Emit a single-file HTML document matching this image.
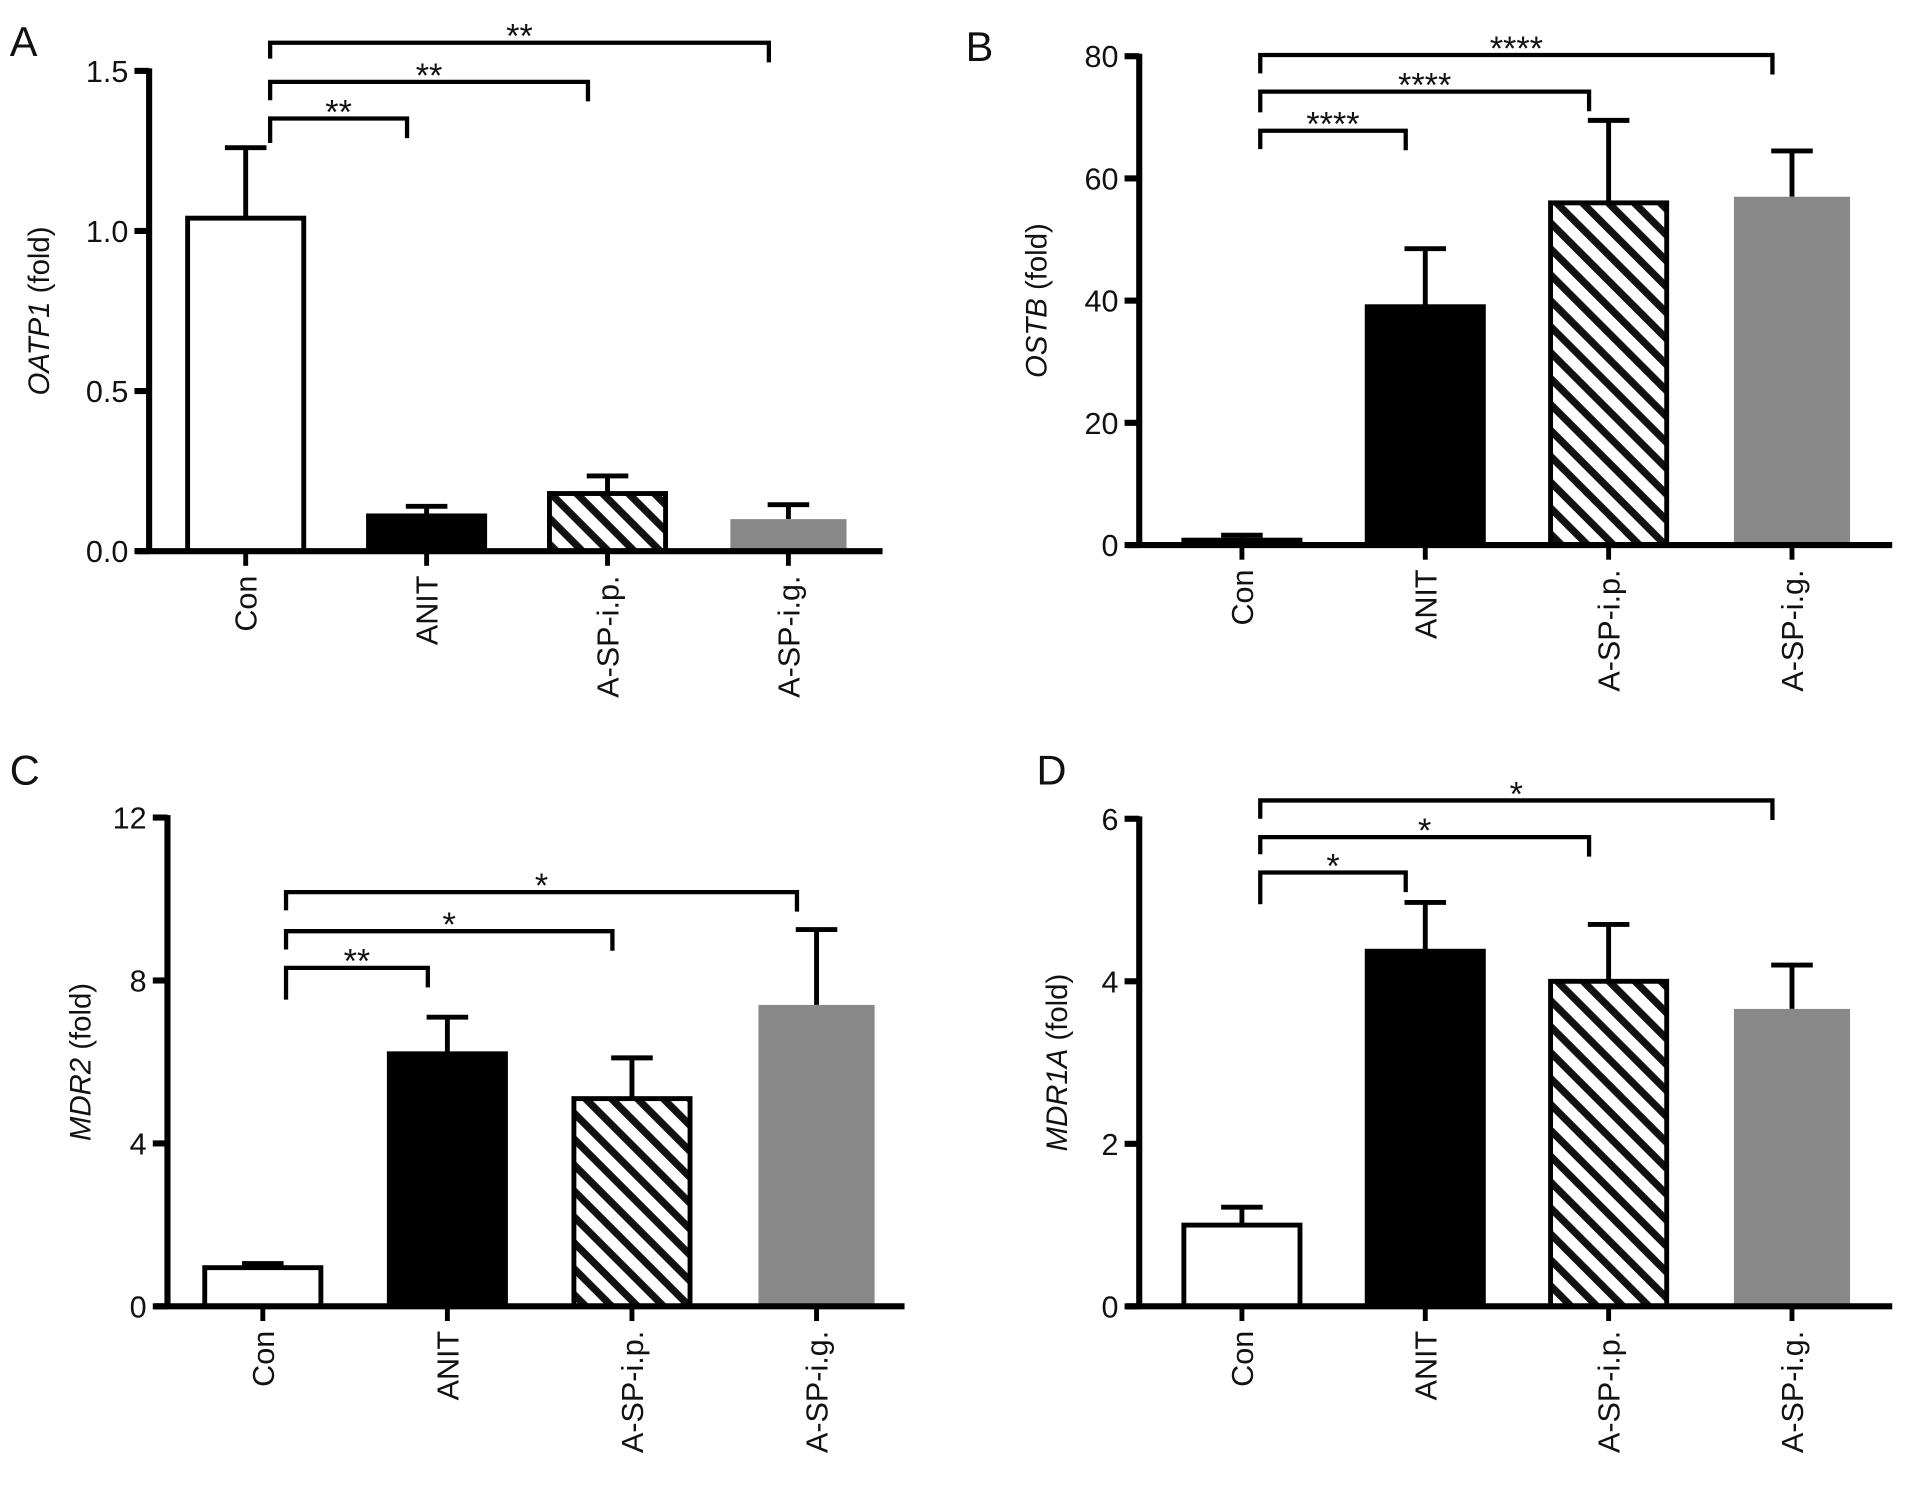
<!DOCTYPE html>
<html><head><meta charset="utf-8"><style>
html,body{margin:0;padding:0;background:#fff}
svg{display:block}
text{font-family:"Liberation Sans",Arial,sans-serif;fill:#111}
</style></head><body>
<svg id="chart" width="1913" height="1486" viewBox="0 0 1565 1216" preserveAspectRatio="none" xmlns="http://www.w3.org/2000/svg">
<defs>
<pattern id="hatch" patternUnits="userSpaceOnUse" width="15" height="15" patternTransform="rotate(-45)">
<rect width="15" height="15" fill="#fff"/><rect x="0" y="0" width="6" height="15" fill="#111"/>
</pattern>
</defs>
</svg>
<script>
const categories = ["Con","ANIT","A-SP-i.p.","A-SP-i.g."];
const valuesA = [1.04, 0.11, 0.18, 0.10];
const errorsA = [1.26, 0.14, 0.235, 0.145];
const valuesB = [0.8, 39, 56, 57];
const errorsB = [1.6, 48.5, 69.5, 64.5];
const valuesC = [0.95, 6.2, 5.1, 7.4];
const errorsC = [1.05, 7.1, 6.1, 9.25];
const valuesD = [1.0, 4.37, 4.0, 3.66];
const errorsD = [1.22, 4.97, 4.7, 4.2];
const ticksA = [0, 0.5, 1.0, 1.5];
const tickLabelsA = ["0.0","0.5","1.0","1.5"];
const ticksB = [0, 20, 40, 60, 80];
const ticksC = [0, 4, 8, 12];
const ticksD = [0, 2, 4, 6];
const sigA = ["**","**","**"];
const sigB = ["****","****","****"];
const sigC = ["**","*","*"];
const sigD = ["*","*","*"];

const svg = document.getElementById('chart');
const NS = 'http://www.w3.org/2000/svg';
function mk(tag, attrs, parent){
  const e = document.createElementNS(NS, tag);
  for (const k in attrs) e.setAttribute(k, attrs[k]);
  (parent||svg).appendChild(e);
  return e;
}
const fills = ['#fff','#000','url(#hatch)','#888'];

function panel(cfg){
  const g = mk('g', {});
  
  
  const yS = v => cfg.y0 - (v - 0) / cfg.max * (cfg.y0 - cfg.yTop);
  const xS = i => cfg.c0 + i * cfg.step;
  const L = mk('text', {x: cfg.lx, y: cfg.ly, 'font-size': 34}, g);
  L.textContent = cfg.letter;
  
  
  const t = mk('text', {x: 0, y: 0, 'font-size': 24, 'text-anchor': 'middle', transform: `translate(${cfg.tx},${(cfg.y0+cfg.yTop)/2}) rotate(-90)`}, g);
  t.innerHTML = `<tspan font-style="italic">${cfg.gene}</tspan> (fold)`;
  
  
  cfg.values.forEach((v, i) => {
    const cx = xS(i), w = 95;
    const top = yS(v), et = yS(cfg.errors[i]);
    const eb = mk('line', {x1: cx, x2: cx, y1: top, y2: et, stroke: '#000', 'stroke-width': 4}, g);
    
    
    const cap = mk('line', {x1: cx-17, x2: cx+17, y1: et, y2: et, stroke: '#000', 'stroke-width': 4}, g);
    
    
    const isGray = i === 3;
    const r = mk('rect', {x: cx - w/2, y: top, width: w, height: cfg.y0 - top, fill: fills[i], stroke: isGray ? 'none' : '#000', 'stroke-width': 4}, g);
    
    
    const tk = mk('line', {x1: cx, x2: cx, y1: cfg.y0, y2: cfg.y0 + 12, stroke: '#000', 'stroke-width': 4}, g);
    
    
    const xl = mk('text', {x: 0, y: 0, 'font-size': 25, 'text-anchor': 'end', transform: `translate(${cx+9},${cfg.y0+20}) rotate(-90)`}, g);
    xl.textContent = categories[i];
    
    
  });
  const ya = mk('line', {x1: cfg.ax, x2: cfg.ax, y1: yS(cfg.max) - 2, y2: cfg.y0 + 2, stroke: '#000', 'stroke-width': 5}, g);
  
  
  const xa = mk('line', {x1: cfg.ax - 10, x2: cfg.xEnd, y1: cfg.y0, y2: cfg.y0, stroke: '#000', 'stroke-width': 5}, g);
  
  
  cfg.ticks.forEach((tv, j) => {
    const y = yS(tv);
    const tl = mk('line', {x1: cfg.ax - 12, x2: cfg.ax, y1: y, y2: y, stroke: '#000', 'stroke-width': 5}, g);
    
    
    const tt = mk('text', {x: cfg.ax - 17, y: y + 9, 'font-size': 25, 'text-anchor': 'end'}, g);
    tt.textContent = cfg.tickLabels ? cfg.tickLabels[j] : String(tv);
    
    
  });
  const bx = xS(0) + cfg.bOff;
  cfg.sig.forEach((s, k) => {
    const x2 = xS(k+1) - 16;
    const y = cfg.bY[k];
    const p = mk('path', {d: `M${bx},${cfg.bL[k]} V${y} H${x2} V${y + cfg.bDrop}`, fill: 'none', stroke: '#000', 'stroke-width': 3.5}, g);
    
    
    const st = mk('text', {x: (bx + x2)/2, y: y + 4, 'font-size': 28, 'text-anchor': 'middle'}, g);
    st.textContent = s;
    
    
  });
}

panel({letter:'A', lx:8, ly:46, gene:'OATP1', tx:40, values:valuesA, errors:errorsA, ticks:ticksA, tickLabels:tickLabelsA, max:1.5,
  y0:451, yTop:58, ax:122, xEnd:722, c0:201, step:148, bOff:20, sig:sigA, bY:[97,67,35], bL:[117,82,48], bDrop:16});
panel({letter:'B', lx:790, ly:50, gene:'OSTB ', tx:856, values:valuesB, errors:errorsB, ticks:ticksB, max:80,
  y0:446, yTop:46, ax:932, xEnd:1548, c0:1016, step:150, bOff:15, sig:sigB, bY:[107,75,45], bL:[122,92,60], bDrop:16});
panel({letter:'C', lx:8, ly:642, gene:'MDR2', tx:74, values:valuesC, errors:errorsC, ticks:ticksC, max:12,
  y0:1069, yTop:669, ax:137, xEnd:740, c0:215, step:151, bOff:19, sig:sigC, bY:[792,762,730], bL:[818,777,745], bDrop:16});
panel({letter:'D', lx:848, ly:642, gene:'MDR1A', tx:873, values:valuesD, errors:errorsD, ticks:ticksD, max:6,
  y0:1069, yTop:670, ax:932, xEnd:1548, c0:1016, step:150, bOff:15, sig:sigD, bY:[714,685,655], bL:[740,699,670], bDrop:16});
</script>
</body></html>
